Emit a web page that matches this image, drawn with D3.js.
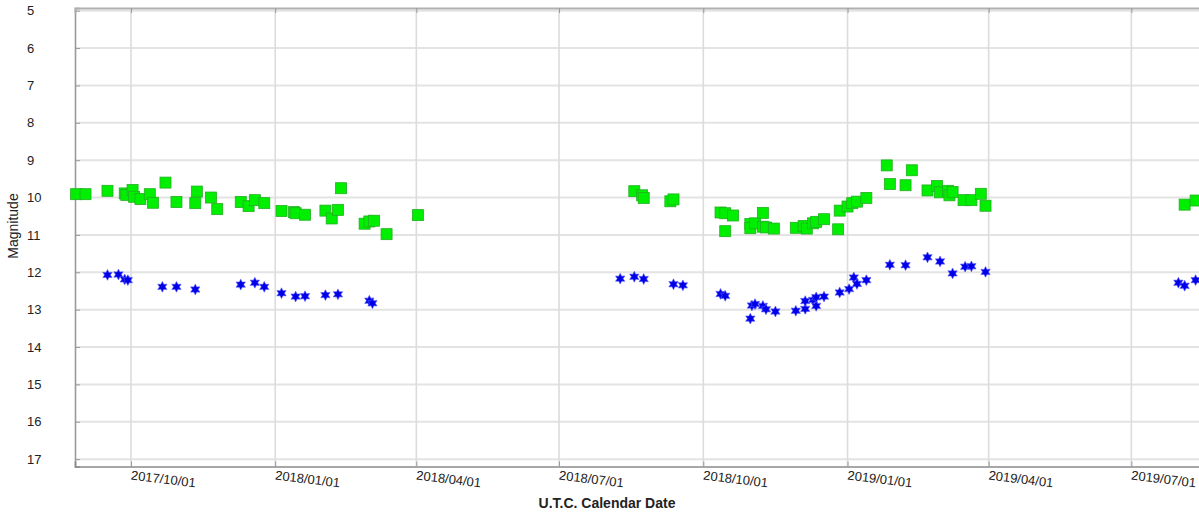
<!DOCTYPE html>
<html>
<head>
<meta charset="utf-8">
<script src="https://cdn.jsdelivr.net/npm/d3@7"></script>
<style>
  html, body { margin: 0; padding: 0; background: #fff; }
  svg { display: block; font-family: "Liberation Sans", Arial, sans-serif; }
</style>
</head>
<body>
<svg id="chart" width="1199" height="516"></svg>
<script>
// ---- data ----
const greenDates = [
  "2017-08-27","2017-09-02","2017-09-16","2017-09-27","2017-09-28","2017-10-02","2017-10-03","2017-10-07",
  "2017-10-13","2017-10-15","2017-10-23","2017-10-30","2017-11-11","2017-11-12","2017-11-21","2017-11-25",
  "2017-12-10","2017-12-15","2017-12-19","2017-12-25","2018-01-05","2018-01-13","2018-01-14","2018-01-20",
  "2018-02-02","2018-02-06","2018-02-10","2018-02-12","2018-02-27","2018-03-02","2018-03-05","2018-03-13",
  "2018-04-02","2018-08-18","2018-08-23","2018-08-24","2018-09-10","2018-09-12","2018-10-12","2018-10-15",
  "2018-10-15","2018-10-20","2018-10-31","2018-10-31","2018-11-03","2018-11-08","2018-11-08","2018-11-10",
  "2018-11-15","2018-11-29","2018-12-04","2018-12-06","2018-12-10","2018-12-12","2018-12-17","2018-12-26",
  "2018-12-27","2019-01-01","2019-01-04","2019-01-07","2019-01-13","2019-01-26","2019-01-28","2019-02-07",
  "2019-02-11","2019-02-21","2019-02-27","2019-03-01","2019-03-06","2019-03-07","2019-03-09","2019-03-16",
  "2019-03-21","2019-03-27","2019-03-30","2019-08-04","2019-08-11"
];
const greenMags = [
  9.91, 9.91, 9.82, 9.89, 9.93, 9.80, 9.98, 10.04,
  9.91, 10.14, 9.60, 10.12, 10.15, 9.84, 10.00, 10.31,
  10.12, 10.23, 10.07, 10.15, 10.36, 10.39, 10.42, 10.46,
  10.35, 10.56, 10.33, 9.75, 10.70, 10.64, 10.62, 10.98,
  10.47, 9.83, 9.94, 10.01, 10.10, 10.05, 10.40, 10.42,
  10.90, 10.48, 10.71, 10.82, 10.69, 10.41, 10.78, 10.80,
  10.83, 10.81, 10.76, 10.83, 10.69, 10.65, 10.58, 10.85,
  10.35, 10.24, 10.15, 10.11, 10.01, 9.14, 9.64, 9.67,
  9.27, 9.81, 9.69, 9.86, 9.82, 9.94, 9.85, 10.07,
  10.07, 9.90, 10.22, 10.19, 10.08
];
const blueDates = [
  "2017-09-16","2017-09-23","2017-09-27","2017-09-29","2017-10-21","2017-10-30","2017-11-11","2017-12-10",
  "2017-12-19","2017-12-25","2018-01-05","2018-01-14","2018-01-20","2018-02-02","2018-02-10","2018-03-02",
  "2018-03-04","2018-08-09","2018-08-18","2018-08-24","2018-09-12","2018-09-18","2018-10-12","2018-10-15",
  "2018-10-31","2018-11-01","2018-11-03","2018-11-08","2018-11-10","2018-11-16","2018-11-29","2018-12-05",
  "2018-12-05","2018-12-10","2018-12-12","2018-12-12","2018-12-17","2018-12-27","2019-01-02","2019-01-05",
  "2019-01-07","2019-01-13","2019-01-28","2019-02-07","2019-02-21","2019-03-01","2019-03-09","2019-03-17",
  "2019-03-21","2019-03-30","2019-07-31","2019-08-04","2019-08-11"
];
const blueMags = [
  12.07, 12.06, 12.19, 12.21, 12.39, 12.39, 12.46, 12.33,
  12.28, 12.39, 12.56, 12.65, 12.64, 12.61, 12.59, 12.76,
  12.83, 12.17, 12.12, 12.18, 12.32, 12.35, 12.58, 12.63,
  13.24, 12.89, 12.85, 12.90, 12.99, 13.05, 13.03, 12.98,
  12.77, 12.74, 12.90, 12.67, 12.65, 12.54, 12.45, 12.14,
  12.31, 12.21, 11.80, 11.81, 11.60, 11.71, 12.03, 11.85,
  11.84, 11.99, 12.28, 12.36, 12.21
];
const yTickValues = [5, 6, 7, 8, 9, 10, 11, 12, 13, 14, 15, 16, 17];
const xTickLabels = ["2017/10/01","2018/01/01","2018/04/01","2018/07/01","2018/10/01","2019/01/01","2019/04/01","2019/07/01"];
const xTitle = "U.T.C. Calendar Date";
const yTitle = "Magnitude";

// ---- layout ----
const svg = d3.select("#chart");
const pLeft = 75, pRight = 1200, pTop = 8, pBottom = 466.5;

const parse = d3.utcParse("%Y-%m-%d");
const parseTick = d3.utcParse("%Y/%m/%d");
const x = d3.scaleUtc()
  .domain([new Date(Date.UTC(2017, 7, 26, 7)), new Date(Date.UTC(2019, 7, 13, 19))])
  .range([pLeft, pRight]);
const y = d3.scaleLinear().domain([4.928, 17.197]).range([pTop, pBottom]);

const xTicks = xTickLabels.map(parseTick);

// gridlines
const grid = svg.append("g");
grid.selectAll("line.h").data(yTickValues).join("line")
  .attr("class", "h")
  .attr("x1", pLeft).attr("x2", pRight)
  .attr("y1", d => y(d)).attr("y2", d => y(d))
  .attr("stroke", "#e3e3e3").attr("stroke-width", 2);
grid.selectAll("line.v").data(xTicks).join("line")
  .attr("class", "v")
  .attr("x1", d => x(d)).attr("x2", d => x(d))
  .attr("y1", pTop).attr("y2", pBottom)
  .attr("stroke", "#dcdcdc").attr("stroke-width", 1.6);

// axes
const yAxis = d3.axisLeft(y).tickValues(yTickValues).tickSize(-5).tickPadding(0).tickFormat(d3.format("d"));
const gy = svg.append("g").attr("transform", `translate(${pLeft},0)`).call(yAxis);
gy.select(".domain").attr("stroke", "#9a9a9a").attr("stroke-width", 1.6);
gy.selectAll(".tick line").attr("stroke", "#9a9a9a");
gy.selectAll(".tick text")
  .attr("x", 27 - pLeft).attr("text-anchor", "start")
  .attr("font-size", 13).attr("fill", "#222")
  .attr("font-family", "Liberation Sans, Arial, sans-serif");

const xAxis = d3.axisBottom(x).tickValues(xTicks).tickSize(-5).tickFormat(d3.utcFormat("%Y/%m/%d"));
const gx = svg.append("g").attr("transform", `translate(0,${pBottom})`).call(xAxis);
gx.select(".domain").attr("stroke", "#8a8a8a").attr("stroke-width", 1.6);
gx.selectAll(".tick line").attr("stroke", "#9a9a9a");
gx.selectAll(".tick text")
  .attr("x", 0).attr("y", 0).attr("dy", 0)
  .attr("text-anchor", "start")
  .attr("transform", "translate(-1,13) rotate(7)")
  .attr("font-size", 13).attr("fill", "#222")
  .attr("font-family", "Liberation Sans, Arial, sans-serif");

// top spine with small ticks
const xTop = d3.axisTop(x).tickValues(xTicks).tickSize(-5).tickFormat("");
const gt = svg.append("g").attr("transform", `translate(0,${pTop})`).call(xTop);
gt.select(".domain").attr("stroke", "#b0b0b0").attr("stroke-width", 2);
gt.selectAll(".tick line").attr("stroke", "#999");

// titles
svg.append("text")
  .attr("x", 607).attr("y", 508)
  .attr("text-anchor", "middle")
  .attr("font-size", 14).attr("font-weight", "bold").attr("fill", "#222")
  .text(xTitle);
svg.append("text")
  .attr("transform", `translate(18,226) rotate(-90)`)
  .attr("text-anchor", "middle")
  .attr("font-size", 14).attr("fill", "#222")
  .text(yTitle);

// markers
const greenData = greenDates.map((d, i) => ({ date: parse(d), mag: greenMags[i] }));
const blueData = blueDates.map((d, i) => ({ date: parse(d), mag: blueMags[i] }));

const plot = svg.append("g");
const sq = 11;
plot.selectAll("rect.g").data(greenData).join("rect")
  .attr("class", "g")
  .attr("x", d => x(d.date) - sq / 2).attr("y", d => y(d.mag) - sq / 2)
  .attr("width", sq).attr("height", sq)
  .attr("fill", "#00ee00").attr("stroke", "#22b022").attr("stroke-width", 0.8);

function hexStar(R, r) {
  const pts = [];
  for (let i = 0; i < 12; i++) {
    const a = (i * 30 - 90) * Math.PI / 180;
    const rad = i % 2 === 0 ? R : r;
    pts.push([rad * Math.cos(a), rad * Math.sin(a)]);
  }
  return "M" + pts.map(p => p[0].toFixed(2) + "," + p[1].toFixed(2)).join("L") + "Z";
}
const starPath = hexStar(5.4, 2.9);
plot.selectAll("path.b").data(blueData).join("path")
  .attr("class", "b")
  .attr("d", starPath)
  .attr("transform", d => `translate(${x(d.date)},${y(d.mag)})`)
  .attr("fill", "#0000e8").attr("stroke", "#5a5aff").attr("stroke-width", 0.6);
</script>
</body>
</html>
